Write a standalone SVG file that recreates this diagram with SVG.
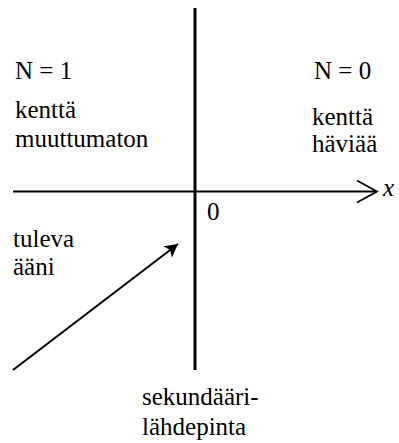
<svg xmlns="http://www.w3.org/2000/svg" width="399" height="443" viewBox="0 0 399 443">
<style>
.t{font-family:'Liberation Serif','Times New Roman','DejaVu Serif',serif;font-size:25px;fill:#000}
.ln{stroke:#000;fill:none}
</style>
<defs>
<marker id="open" markerUnits="userSpaceOnUse" markerWidth="26" markerHeight="26" refX="21" refY="12" orient="auto" overflow="visible">
<path d="M1,1 L21,12 L1,23" fill="none" stroke="#000" stroke-width="1.8"/>
</marker>
<marker id="solid" markerUnits="userSpaceOnUse" markerWidth="16" markerHeight="16" refX="13" refY="7" orient="auto" overflow="visible">
<path d="M0,0 L13,7 L0,14 L3,7 Z" fill="#000"/>
</marker>
</defs>
<rect width="399" height="443" fill="#fff"/>
<g id="connectors">
<line class="ln" x1="195" y1="8" x2="195" y2="370" stroke-width="3"/>
<line class="ln" x1="13" y1="191.5" x2="377" y2="191.5" stroke-width="1.8" marker-end="url(#open)"/>
<line class="ln" x1="13" y1="370" x2="178" y2="244" stroke-width="2" marker-end="url(#solid)"/>
</g>
<g id="left">
<text class="t" x="15" y="79">N = 1</text>
<text class="t" x="15" y="118">kenttä</text>
<text class="t" x="15" y="147">muuttumaton</text>
</g>
<g id="right">
<text class="t" x="314" y="79">N = 0</text>
<text class="t" x="312" y="125">kenttä</text>
<text class="t" x="312" y="152">häviää</text>
</g>
<g id="axis-labels">
<text class="t" x="383" y="196" font-style="italic">x</text>
<text class="t" x="207" y="220">0</text>
</g>
<g id="incoming">
<text class="t" x="13" y="247">tuleva</text>
<text class="t" x="13" y="275">ääni</text>
</g>
<g id="surface">
<text class="t" x="142" y="405">sekundääri-</text>
<text class="t" x="142" y="435">lähdepinta</text>
</g>
</svg>
